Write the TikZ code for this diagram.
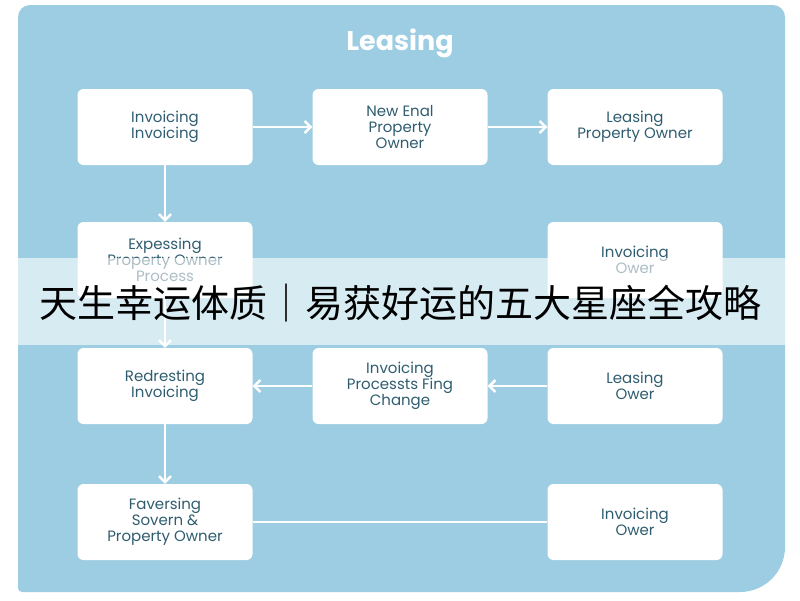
\documentclass[tikz,border=0pt]{standalone}
\usepackage{fontspec}
\setmainfont{Poppins}
\newfontfamily\cjk{Noto Sans CJK SC}
\usetikzlibrary{positioning,arrows.meta}
\definecolor{bgblue}{HTML}{9DCDE2}
\definecolor{txtblue}{HTML}{2F5D70}
\tikzset{
  stage/.style={draw=none,fill=white,rounded corners=6pt,minimum width=175pt,
    minimum height=76pt,align=center,text=txtblue,font=\fontsize{15}{16}\selectfont},
  flow/.style={draw=white,line width=2.5pt,-{Straight Barb[length=6pt,width=12pt]}}
}
\begin{document}
\begin{tikzpicture}[x=1pt,y=-1pt]
\useasboundingbox (0,0) rectangle (800,600);
\fill[white] (0,0) rectangle (800,600);
\fill[bgblue,rounded corners=12pt] (18,5) -- (785,5) -- (785,540) [rounded corners=45pt] -- (785,592) [rounded corners=4pt] -- (18,592) [rounded corners=12pt] -- cycle;
\node[text=white,font=\bfseries\fontsize{27}{29}\selectfont] (title) at (400,43) {Leasing};
% row 1
\node[stage] (inv) at (165,127) {Invoicing\\Invoicing};
\node[stage] (new) at (400,127) {New Enal\\Property\\Owner};
\node[stage] (lease) at (635,127) {Leasing\\Property Owner};
% row 2
\node[stage] (exp) at (165,260) {Expessing\\Property Owner\\Process};
\node[stage] (inv2) at (635,260) {Invoicing\\Ower};
% row 3
\node[stage] (red) at (165,386) {Redresting\\Invoicing};
\node[stage] (proc) at (400,386) {Invoicing\\Processts Fing\\Change};
\node[stage] (lease2) at (635,386) {Leasing\\Ower};
% row 4
\node[stage] (fav) at (165,522) {Faversing\\Sovern \&\\Property Owner};
\node[stage] (inv3) at (635,522) {Invoicing\\Ower};
\draw[flow] (inv) -- (exp);
\draw[flow] (inv) -- (new);
\draw[flow] (new) -- (lease);
\draw[flow] (exp) -- (red);
\draw[flow] (lease2) -- (proc);
\draw[flow] (proc) -- (red);
\draw[flow] (red) -- (fav);
\draw[draw=white,line width=2pt] (fav) -- (inv3);
% banner
\fill[white,opacity=0.6] (0,258) rectangle (800,345);
\node[text=black,font=\cjk\fontsize{38}{40}\selectfont] (banner) at (400,303) {天生幸运体质｜易获好运的五大星座全攻略};
\end{tikzpicture}
\end{document}
